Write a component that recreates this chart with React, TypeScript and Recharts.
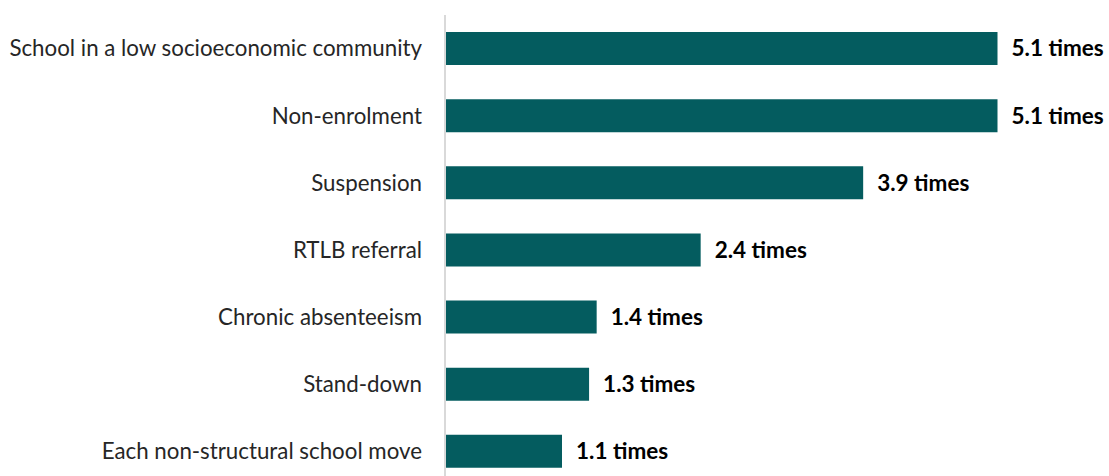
import { BarChart, Bar, XAxis, YAxis, LabelList } from 'recharts'

const categories = [
  'School in a low socioeconomic community',
  'Non-enrolment',
  'Suspension',
  'RTLB referral',
  'Chronic absenteeism',
  'Stand-down',
  'Each non-structural school move',
]
const values = [5.1, 5.1, 3.86, 2.36, 1.4, 1.33, 1.08]
const labels = ['5.1 times', '5.1 times', '3.9 times', '2.4 times', '1.4 times', '1.3 times', '1.1 times']

const data = categories.map((name, i) => ({ name, value: values[i], label: labels[i] }))

const FONT = 'Lato, "Open Sans", sans-serif'

export default function App() {
  return (
    <div style={{ position: 'absolute', left: 0, top: 0, width: 1109, height: 476, overflow: 'hidden', background: '#fff' }}>
      <BarChart
        width={1109}
        height={485}
        data={data}
        layout="vertical"
        margin={{ top: 15, right: 14, bottom: 0, left: 0 }}
      >
        <XAxis type="number" domain={[0, 6]} hide />
        <YAxis
          type="category"
          dataKey="name"
          width={445}
          tickLine={false}
          tickSize={0}
          tickMargin={23}
          axisLine={{ stroke: '#d9d9d9', strokeWidth: 2 }}
          tick={{ fontSize: 22.3, fill: '#262626', fontFamily: FONT }}
          interval={0}
        />
        <Bar dataKey="value" fill="#045c5f" barSize={33} isAnimationActive={false}>
          <LabelList
            dataKey="label"
            position="right"
            offset={14}
            style={{ fontSize: 22.5, fontWeight: 700, fill: '#000', fontFamily: FONT }}
          />
        </Bar>
      </BarChart>
    </div>
  )
}
